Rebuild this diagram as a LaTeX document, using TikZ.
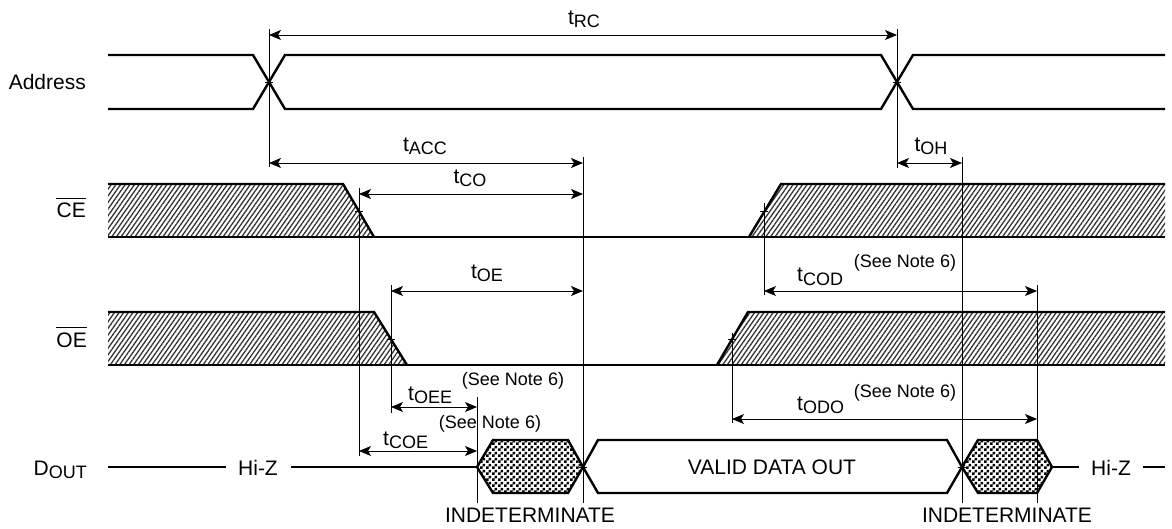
\documentclass[tikz,border=0pt]{standalone}
\usepackage{fontspec}
\setmainfont{Liberation Sans}
\usetikzlibrary{arrows.meta,patterns,patterns.meta}
\pgfdeclarepatternformonly{chkbd}{\pgfqpoint{0pt}{0pt}}{\pgfqpoint{6pt}{6pt}}{\pgfqpoint{6pt}{6pt}}{%
  \pgfpathrectangle{\pgfqpoint{0pt}{0pt}}{\pgfqpoint{3pt}{3pt}}%
  \pgfpathrectangle{\pgfqpoint{3pt}{3pt}}{\pgfqpoint{3pt}{3pt}}%
  \pgfusepath{fill}}
\newcommand\tsubs[1]{t\raisebox{-3pt}{\fontsize{18}{20}\selectfont #1}}
\newcommand\bigf{\fontsize{21}{25}\selectfont}
\newcommand\smallf{\fontsize{18}{21}\selectfont}
\tikzset{
  sig/.style={line width=2.4pt},
  refl/.style={line width=0.9pt},
  tick/.style={line width=0.9pt},
  dim/.style={line width=0.9pt,{Stealth[length=12pt,width=10pt,inset=3pt]}-{Stealth[length=12pt,width=10pt,inset=3pt]}},
  lbl/.style={font=\bigf,inner sep=0pt,anchor=base},
  note/.style={font=\smallf,inner sep=0pt,anchor=base},
  hatch/.style={pattern={Lines[angle=55,distance=3.8pt,line width=1.3pt]},pattern color=black!80},
  checker/.style={pattern=chkbd,pattern color=black},
}
\begin{document}
\begin{tikzpicture}[x=1pt,y=-1pt]
\useasboundingbox (0,0) rectangle (1172,529);

% ---------- signal names ----------
\node[lbl,anchor=base east] (addr) at (86,90) {Address};
\node[lbl,anchor=base east] (ce) at (86,218) {CE};
\node[lbl,anchor=base east] (oe) at (87,347) {OE};
\node[lbl,anchor=base east] (dout) at (87,475) {D\raisebox{-3pt}{\fontsize{18}{20}\selectfont OUT}};
\draw[line width=0.9pt] ([yshift=5pt]ce.north west) -- ([yshift=5pt]ce.north east);
\draw[line width=0.9pt] ([yshift=5pt]oe.north west) -- ([yshift=5pt]oe.north east);

% ---------- Address ----------
\draw[sig] (108,55) -- (253,55) -- (285,109) -- (881,109) -- (913,55) -- (1165,55);
\draw[sig] (108,109) -- (253,109) -- (285,55) -- (881,55) -- (913,109) -- (1165,109);

% ---------- CE ----------
\fill[hatch] (108,184) -- (343,184) -- (374,237) -- (108,237) -- cycle;
\fill[hatch] (749,237) -- (781,184) -- (1165,184) -- (1165,237) -- cycle;
\draw[sig] (108,184) -- (343,184) -- (374,237);
\draw[sig] (108,237) -- (1165,237);
\draw[sig] (749,237) -- (781,184) -- (1165,184);

% ---------- OE ----------
\fill[hatch] (108,312) -- (374,312) -- (407,365) -- (108,365) -- cycle;
\fill[hatch] (717,365) -- (748,312) -- (1165,312) -- (1165,365) -- cycle;
\draw[sig] (108,312) -- (374,312) -- (407,365);
\draw[sig] (108,365) -- (1165,365);
\draw[sig] (717,365) -- (748,312) -- (1165,312);

% ---------- DOUT ----------
\coordinate (dl0) at (108,467); \coordinate (dl1) at (226,467);
\coordinate (dl2) at (291,467); \coordinate (dl3) at (477,467);
\coordinate (dr0) at (1052,467); \coordinate (dr1) at (1079,467);
\coordinate (dr2) at (1143,467); \coordinate (dr3) at (1165,467);
\draw[sig] (dl0) -- (dl1);
\draw[sig] (dl2) -- (dl3);
\draw[sig] (dr0) -- (dr1);
\draw[sig] (dr2) -- (dr3);
\node[lbl] (hiz1) at (258,475) {Hi-Z};
\node[lbl] (hiz2) at (1111,475) {Hi-Z};
\filldraw[sig,checker] (477,467) -- (493,440) -- (568,440) -- (583,467) -- (568,493) -- (493,493) -- cycle;
\draw[sig] (583,467) -- (598,440) -- (947,440) -- (962,467) -- (947,493) -- (598,493) -- cycle;
\filldraw[sig,checker] (962,467) -- (978,440) -- (1037,440) -- (1052,467) -- (1037,493) -- (978,493) -- cycle;
\node[lbl] (valid) at (772,474) {VALID DATA OUT};
\node[lbl] (ind1) at (530,522) {INDETERMINATE};
\node[lbl] (ind2) at (1007,522) {INDETERMINATE};

% ---------- reference verticals ----------
\coordinate (a1t) at (269,29);  \coordinate (a1b) at (269,167);
\coordinate (a2t) at (897,29);  \coordinate (a2b) at (897,168);
\coordinate (v583t) at (583,157); \coordinate (v583b) at (583,503);
\coordinate (v962t) at (962,157); \coordinate (v962b) at (962,503);
\coordinate (v359t) at (359,188); \coordinate (v359b) at (359,456);
\coordinate (v391t) at (391,285); \coordinate (v391b) at (391,413);
\coordinate (v477t) at (477,397); \coordinate (v477b) at (477,503);
\coordinate (v764t) at (764,203); \coordinate (v764b) at (764,295);
\coordinate (v1037t) at (1037,285); \coordinate (v1037b) at (1037,503);
\coordinate (v732t) at (732,333); \coordinate (v732b) at (732,423);
\foreach \n in {a1,a2,v583,v962,v359,v391,v477,v764,v1037,v732}
  \draw[refl] (\n t) -- (\n b);

% ---------- crossing ticks ----------
\foreach \p in {(269,82),(897,82),(359,211),(764,211),(391,339),(732,339),(583,467),(962,467)}
  \draw[tick] \p ++(-4,0) -- ++(8,0);

% ---------- dimension arrows ----------
\coordinate (rcL) at (269,35);   \coordinate (rcR) at (897,35);
\coordinate (accL) at (269,163); \coordinate (accR) at (583,163);
\coordinate (coL) at (359,194);  \coordinate (coR) at (583,194);
\coordinate (ohL) at (897,163);  \coordinate (ohR) at (962,163);
\coordinate (oeL) at (391,291);  \coordinate (oeR) at (583,291);
\coordinate (codL) at (764,291); \coordinate (codR) at (1037,291);
\coordinate (oeeL) at (391,407); \coordinate (oeeR) at (477,407);
\coordinate (coeL) at (359,451); \coordinate (coeR) at (477,451);
\coordinate (odoL) at (732,419); \coordinate (odoR) at (1037,419);
\draw[dim] (rcL) -- (rcR);
\draw[dim] (accL) -- (accR);
\draw[dim] (coL) -- (coR);
\draw[dim] (ohL) -- (ohR);
\draw[dim] (oeL) -- (oeR);
\draw[dim] (codL) -- (codR);
\draw[dim] (oeeL) -- (oeeR);
\draw[dim] (coeL) -- (coeR);
\draw[dim] (odoL) -- (odoR);

% ---------- timing labels ----------
\node[lbl] (trc) at (584,25) {\tsubs{RC}};
\node[lbl] (tacc) at (425,152) {\tsubs{ACC}};
\node[lbl] (tco) at (470,184) {\tsubs{CO}};
\node[lbl] (toh) at (931,152) {\tsubs{OH}};
\node[lbl] (toe) at (487,279) {\tsubs{OE}};
\node[lbl,anchor=base west] (tcod) at (797,282) {\tsubs{COD}};
\node[lbl,anchor=base west] (todo) at (797,410) {\tsubs{ODO}};
\node[lbl,anchor=base west] (toee) at (408,400) {\tsubs{OEE}};
\node[lbl,anchor=base west] (tcoe) at (383,445) {\tsubs{COE}};

\node[note] (n1) at (905,268) {(See Note 6)};
\node[note] (n2) at (905,397) {(See Note 6)};
\node[note] (n3) at (513,385) {(See Note 6)};
\node[note] (n4) at (490,428) {(See Note 6)};
\end{tikzpicture}
\end{document}
